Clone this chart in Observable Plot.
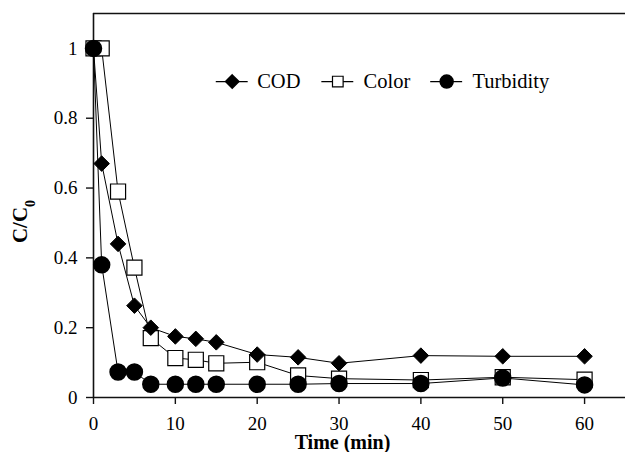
<!DOCTYPE html>
<html><head><meta charset="utf-8">
<script src="https://cdn.jsdelivr.net/npm/d3@7"></script>
<script src="https://cdn.jsdelivr.net/npm/@observablehq/plot@0.6"></script>
<style>
body{margin:0;background:#fff}
</style>
</head><body><div id="chart"></div>
<script>
const times = [0, 1, 3, 5, 7, 10, 12.5, 15, 20, 25, 30, 40, 50, 60];
const codValues = [1, 0.67, 0.44, 0.263, 0.2, 0.175, 0.168, 0.158, 0.123, 0.115, 0.098, 0.12, 0.118, 0.118];
const colorValues = [1, 1, 0.59, 0.372, 0.17, 0.113, 0.108, 0.098, 0.101, 0.063, 0.054, 0.05, 0.058, 0.051];
const turbidityValues = [1, 0.38, 0.073, 0.073, 0.038, 0.038, 0.038, 0.038, 0.038, 0.038, 0.04, 0.04, 0.056, 0.036];
const xTicks = [0, 10, 20, 30, 40, 50, 60];
const yTicks = [0, 0.2, 0.4, 0.6, 0.8, 1];
const seriesNames = ["COD", "Color", "Turbidity"];
const legendRow = 0.905;
const legendLineStart = [15.0, 27.9, 41.2];
const legendLineEnd = [18.9, 31.8, 45.1];
const legendTextX = [20.0, 33.0, 46.3];
const FONT = "Liberation Serif";

const rows = vals => times.map((t, i) => ({t, v: vals[i]}));
const cod = rows(codValues), color = rows(colorValues), turb = rows(turbidityValues);
const legend = seriesNames.map((name, i) => ({
  name, y: legendRow, x1: legendLineStart[i], x2: legendLineEnd[i],
  xm: (legendLineStart[i] + legendLineEnd[i]) / 2, xt: legendTextX[i]
}));

const chart = Plot.plot({
  width: 625, height: 452,
  marginLeft: 93, marginRight: 0, marginTop: 13, marginBottom: 55,
  style: {fontFamily: FONT, fontSize: "19px", background: "white", color: "black"},
  x: {domain: [0, 65]},
  y: {domain: [0, 1.1]},
  marks: [
    Plot.ruleX([0], {stroke: "#111", strokeWidth: 1.6}),
    Plot.ruleY([0, 1.1], {stroke: "#111", strokeWidth: 1.6}),
    Plot.axisX(xTicks, {tickSize: 7, tickPadding: 12, fontSize: 19, fontFamily: FONT, label: null, stroke: "#111", strokeWidth: 1.4}),
    Plot.axisY(yTicks, {tickSize: 7, tickPadding: 9, fontSize: 19, fontFamily: FONT, label: null, stroke: "#111", strokeWidth: 1.4, tickFormat: d3.format("")}),
    Plot.line(cod, {x: "t", y: "v", stroke: "black", strokeWidth: 1}),
    Plot.line(color, {x: "t", y: "v", stroke: "black", strokeWidth: 1}),
    Plot.line(turb, {x: "t", y: "v", stroke: "black", strokeWidth: 1}),
    Plot.dot(color, {x: "t", y: "v", symbol: "square", r: 8.5, fill: "white", stroke: "black", strokeWidth: 1.2}),
    Plot.dot(cod, {x: "t", y: "v", symbol: "diamond2", r: 7, fill: "black", stroke: "black", strokeWidth: 1}),
    Plot.dot(turb, {x: "t", y: "v", symbol: "circle", r: 8, fill: "black", stroke: "black"}),
    // legend
    Plot.ruleY(legend, {y: "y", x1: "x1", x2: "x2", stroke: "black", strokeWidth: 1.2}),
    Plot.dot(legend.filter(d => d.name === "COD"), {x: "xm", y: "y", symbol: "diamond2", r: 6, fill: "black", stroke: "black"}),
    Plot.dot(legend.filter(d => d.name === "Color"), {x: "xm", y: "y", symbol: "square", r: 6, fill: "white", stroke: "black", strokeWidth: 1.2}),
    Plot.dot(legend.filter(d => d.name === "Turbidity"), {x: "xm", y: "y", symbol: "circle", r: 6.5, fill: "black", stroke: "black"}),
    Plot.text(legend, {x: "xt", y: "y", text: "name", textAnchor: "start", fontSize: 20.5, fontFamily: FONT, fill: "black"}),
    // axis titles
    Plot.text(["Time (min)"], {frameAnchor: "bottom", lineAnchor: "middle", dx: -17, dy: 45, fontSize: 20, fontFamily: FONT, fontWeight: "bold", fill: "black"}),
    Plot.text(["C/C0"], {frameAnchor: "left", textAnchor: "middle", lineAnchor: "middle", dx: -73, dy: 16, rotate: -90, fontSize: 21, fontFamily: FONT, fontWeight: "bold", fill: "black"})
  ]
});
document.getElementById("chart").appendChild(chart);
d3.select(chart).attr("font-family", FONT).style("font-family", FONT);
d3.select(chart).selectAll("text, g").attr("font-family", FONT).style("font-family", FONT);
d3.select(chart).selectAll("text").filter(function() { return this.textContent === "C/C0"; })
  .each(function() {
    const t = d3.select(this);
    t.text("C/C");
    t.append("tspan").attr("baseline-shift", "sub").attr("font-size", "14px").text("0");
  });
</script>
</body></html>
